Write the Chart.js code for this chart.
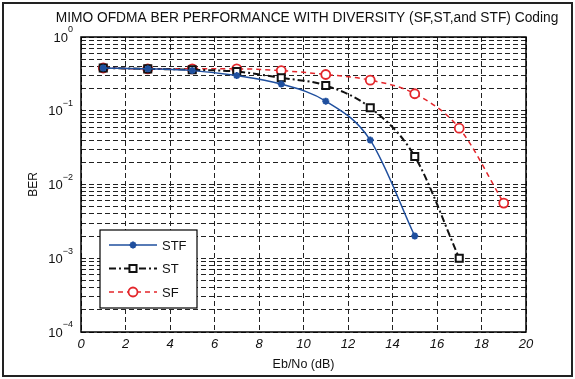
<!DOCTYPE html>
<html>
<head>
<meta charset="utf-8">
<script src="https://cdn.jsdelivr.net/npm/chart.js@4"></script>
<style>
  body { margin: 0; background: #fff; }
  canvas { display: block; }
</style>
</head>
<body>
<canvas id="berChart" width="575" height="379"></canvas>
<script>
const ebno = [1, 3, 5, 7, 9, 11, 13, 15, 17, 19];
const berSTF = [0.38, 0.37, 0.35, 0.30, 0.23, 0.135, 0.04, 0.002];
const berST = [0.38, 0.37, 0.36, 0.34, 0.28, 0.22, 0.11, 0.024, 0.001];
const berSF = [0.38, 0.37, 0.37, 0.37, 0.35, 0.31, 0.26, 0.17, 0.058, 0.0056];
const xTicks = [0, 2, 4, 6, 8, 10, 12, 14, 16, 18, 20];
const decades = [-4, -3, -2, -1, 0];

const titleText = "MIMO OFDMA BER PERFORMANCE WITH DIVERSITY (SF,ST,and STF) Coding";
const FONT = "'Liberation Sans', Arial, sans-serif";

function pts(ys) {
  return ys.map((y, i) => ({ x: ebno[i], y: y }));
}

// frame, title, y labels with exponents and the legend box
const extras = {
  id: "extras",
  afterDraw(chart) {
    const ctx = chart.ctx;
    const a = chart.chartArea;
    const ys = chart.scales.y;
    ctx.save();
    // outer frame
    ctx.strokeStyle = "#222";
    ctx.lineWidth = 2;
    ctx.strokeRect(3, 3, 569, 373);
    // axes box
    ctx.lineWidth = 1.5;
    ctx.strokeStyle = "#000";
    ctx.strokeRect(a.left, a.top, a.right - a.left, a.bottom - a.top);
    // title
    ctx.fillStyle = "#111";
    ctx.font = "13.5px " + FONT;
    ctx.textAlign = "center";
    ctx.textBaseline = "middle";
    ctx.save();
    ctx.translate(307, 18);
    ctx.scale(1.02, 1.05);
    ctx.fillText(titleText, 0, 0);
    ctx.restore();
    // y axis title
    ctx.save();
    ctx.translate(34, (a.top + a.bottom) / 2);
    ctx.rotate(-Math.PI / 2);
    ctx.font = "12px " + FONT;
    ctx.fillText("BER", 0, 0);
    ctx.restore();
    // y tick labels 10^n
    decades.forEach(e => {
      const py = ys.getPixelForValue(Math.pow(10, e));
      const ex = String(e).replace("-", "\u2212");
      ctx.font = "9px " + FONT;
      const ew = ctx.measureText(ex).width;
      ctx.textAlign = "left";
      ctx.fillText(ex, 73 - ew, py - 7);
      ctx.font = "13px " + FONT;
      ctx.textAlign = "right";
      ctx.fillText("10", 73 - ew, py + 1);
    });
    // legend box
    const lx = 100, ly = 230, lw = 97, lh = 78;
    ctx.fillStyle = "#fff";
    ctx.fillRect(lx, ly, lw, lh);
    ctx.strokeStyle = "#000";
    ctx.lineWidth = 1.2;
    ctx.strokeRect(lx, ly, lw, lh);
    chart.data.datasets.forEach((ds, i) => {
      const y = 245 + i * 23.5;
      ctx.save();
      ctx.strokeStyle = ds.borderColor;
      ctx.lineWidth = ds.borderWidth;
      ctx.setLineDash(ds.borderDash || []);
      ctx.beginPath();
      ctx.moveTo(109, y);
      ctx.lineTo(157, y);
      ctx.stroke();
      ctx.restore();
      ctx.save();
      ctx.strokeStyle = ds.borderColor;
      ctx.fillStyle = ds.backgroundColor;
      ctx.lineWidth = ds.pointBorderWidth;
      Chart.helpers.drawPoint(ctx, {
        pointStyle: ds.pointStyle,
        radius: ds.pointRadius,
        borderWidth: ds.pointBorderWidth
      }, 133, y);
      ctx.restore();
      ctx.fillStyle = "#111";
      ctx.font = "13px " + FONT;
      ctx.textAlign = "left";
      ctx.textBaseline = "middle";
      ctx.fillText(ds.label, 162, y + 1);
    });
    ctx.restore();
  }
};

new Chart(document.getElementById("berChart"), {
  type: "line",
  data: {
    datasets: [{
      label: "STF",
      data: pts(berSTF),
      borderColor: "#1f4f9e",
      backgroundColor: "#1f4f9e",
      borderWidth: 1.5,
      pointStyle: "star",
      pointRadius: 3.5,
      pointBorderWidth: 2,
      cubicInterpolationMode: "monotone"
    }, {
      label: "ST",
      data: pts(berST),
      borderColor: "#111",
      backgroundColor: "#fff",
      borderWidth: 2,
      borderDash: [7, 3, 2, 3],
      pointStyle: "rect",
      pointRadius: 5,
      pointBorderWidth: 2,
      cubicInterpolationMode: "monotone"
    }, {
      label: "SF",
      data: pts(berSF),
      borderColor: "#e3262b",
      backgroundColor: "#fff",
      borderWidth: 1.5,
      borderDash: [5, 4],
      pointStyle: "circle",
      pointRadius: 4.5,
      pointBorderWidth: 1.8,
      cubicInterpolationMode: "monotone"
    }]
  },
  options: {
    responsive: false,
    animation: false,
    layout: { padding: { top: 37, right: 49, left: 0, bottom: 0 } },
    plugins: {
      legend: { display: false },
      tooltip: { enabled: false }
    },
    scales: {
      x: {
        type: "linear",
        min: 0,
        max: 20,
        afterBuildTicks: s => { s.ticks = xTicks.map(v => ({ value: v })); },
        afterFit: s => { s.height = 47; },
        ticks: {
          color: "#111",
          padding: 5,
          font: { family: FONT, size: 13, style: "italic" }
        },
        grid: { color: "#222", lineWidth: 1, drawTicks: false },
        border: { display: false, dash: [5, 3] },
        title: {
          display: true,
          text: "Eb/No (dB)",
          color: "#111",
          padding: { top: 2, bottom: 7 },
          font: { family: FONT, size: 12.5 }
        }
      },
      y: {
        type: "logarithmic",
        min: 1e-4,
        max: 1,
        afterBuildTicks: s => {
          const t = [];
          decades.forEach(e => {
            for (let m = 1; m <= 9; m++) {
              const v = m * Math.pow(10, e);
              if (v <= 1) t.push({ value: v });
            }
          });
          s.ticks = t;
        },
        afterFit: s => { s.width = 81; },
        ticks: { display: false },
        grid: { color: "#222", lineWidth: 1, drawTicks: false },
        border: { display: false, dash: [5, 3] }
      }
    }
  },
  plugins: [extras]
});
</script>
</body>
</html>
